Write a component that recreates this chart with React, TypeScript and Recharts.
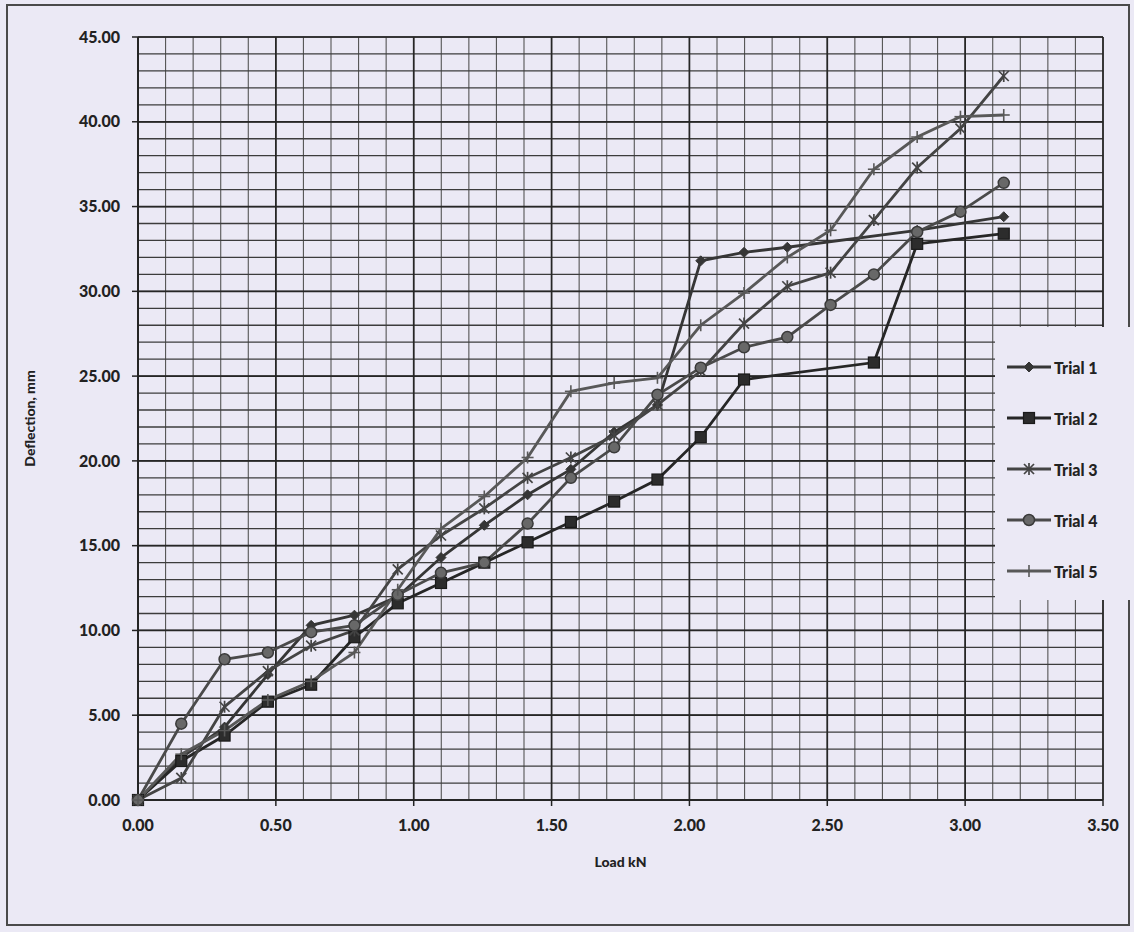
import React from "react";
import {
  LineChart,
  Line,
  XAxis,
  YAxis,
  CartesianGrid,
  Legend,
} from "recharts";

// load steps (kN)
const loads = [
  0.0, 0.157, 0.314, 0.471, 0.628, 0.785, 0.942, 1.099, 1.256, 1.413, 1.57,
  1.727, 1.884, 2.041, 2.198, 2.355, 2.512, 2.669, 2.826, 2.983, 3.14,
];

// deflection (mm), null = no reading
const trial1 = [
  0, 2.5, 4.3, 7.4, 10.3, 10.9, 12.0, 14.3, 16.2, 18.0, 19.5, 21.7, 23.3,
  31.8, 32.3, 32.6, null, null, 33.6, null, 34.4,
];
const trial2 = [
  0, 2.3, 3.8, 5.8, 6.8, 9.6, 11.6, 12.8, 14.0, 15.2, 16.4, 17.6, 18.9, 21.4,
  24.8, null, null, 25.8, 32.8, null, 33.4,
];
const trial3 = [
  0, 1.3, 5.5, 7.6, 9.1, 10.0, 13.6, 15.6, 17.2, 19.0, 20.2, 21.5, 23.3,
  25.3, 28.1, 30.3, 31.1, 34.2, 37.3, 39.6, 42.7,
];
const trial4 = [
  0, 4.5, 8.3, 8.7, 9.9, 10.3, 12.1, 13.4, 14.0, 16.3, 19.0, 20.8, 23.9,
  25.5, 26.7, 27.3, 29.2, 31.0, 33.5, 34.7, 36.4,
];
const trial5 = [
  0, 2.7, 4.1, 5.9, 7.0, 8.7, 12.4, 16.0, 17.9, 20.2, 24.1, 24.6, 24.9, 28.0,
  29.9, 32.0, 33.6, 37.2, 39.1, 40.3, 40.4,
];

const xTicks = [0, 0.5, 1, 1.5, 2, 2.5, 3, 3.5];
const yTicks = [0, 5, 10, 15, 20, 25, 30, 35, 40, 45];

// minor grid: 0.1 kN and 1 mm
const xMinor = Array.from({ length: 36 }, (_, i) => +(i * 0.1).toFixed(1));
const yMinor = Array.from({ length: 46 }, (_, i) => i);

const BG = "#EBE9F5";

const series = [
  { key: "t1", name: "Trial 1", values: trial1, color: "#363636", shape: "diamond" },
  { key: "t2", name: "Trial 2", values: trial2, color: "#262626", shape: "square" },
  { key: "t3", name: "Trial 3", values: trial3, color: "#444444", shape: "star" },
  { key: "t4", name: "Trial 4", values: trial4, color: "#4a4a4a", shape: "circle" },
  { key: "t5", name: "Trial 5", values: trial5, color: "#585858", shape: "plus" },
];

const data = loads.map((load, i) => {
  const row: any = { load };
  series.forEach((s) => {
    row[s.key] = s.values[i];
  });
  return row;
});

function Marker({ shape, x, y, color }: any) {
  if (shape === "diamond") {
    return (
      <polygon
        points={`${x},${y - 5} ${x + 5},${y} ${x},${y + 5} ${x - 5},${y}`}
        fill={color}
        stroke={color}
      />
    );
  }
  if (shape === "square") {
    return (
      <rect x={x - 5.5} y={y - 5.5} width={11} height={11} fill="#2c2c2c" stroke="#1a1a1a" strokeWidth={1.2} />
    );
  }
  if (shape === "star") {
    return (
      <g stroke={color} strokeWidth={1.7}>
        <line x1={x - 5} y1={y - 5} x2={x + 5} y2={y + 5} />
        <line x1={x + 5} y1={y - 5} x2={x - 5} y2={y + 5} />
        <line x1={x} y1={y - 6} x2={x} y2={y + 6} />
      </g>
    );
  }
  if (shape === "circle") {
    return <circle cx={x} cy={y} r={5.5} fill="#686868" stroke="#3a3a3a" strokeWidth={1.5} />;
  }
  return (
    <g stroke={color} strokeWidth={1.6}>
      <line x1={x} y1={y - 6} x2={x} y2={y + 6} />
      <line x1={x - 6} y1={y} x2={x + 6} y2={y} />
    </g>
  );
}

const makeDot = (shape: string, color: string) => (props: any) => {
  const { cx, cy, index, value } = props;
  if (cx == null || cy == null || value == null) return <g key={index} />;
  return (
    <g key={index}>
      <Marker shape={shape} x={cx} y={cy} color={color} />
    </g>
  );
};

function TrialLegend() {
  return (
    <div style={{ position: "relative", width: "100%", height: "100%" }}>
      {series.map((s, i) => (
        <div
          key={s.key}
          style={{
            position: "absolute",
            left: 12,
            top: 40 + i * 51 - 9,
            height: 18,
            display: "flex",
            alignItems: "center",
          }}
        >
          <svg width={44} height={18}>
            <line x1={0} y1={9} x2={44} y2={9} stroke={s.color} strokeWidth={2.8} />
            <Marker shape={s.shape} x={22} y={9} color={s.color} />
          </svg>
          <span
            style={{
              marginLeft: 3,
              fontFamily: "Lato, sans-serif",
              fontWeight: 900,
              fontSize: 16,
              color: "#222",
            }}
          >
            {s.name}
          </span>
        </div>
      ))}
    </div>
  );
}

const tickStyle = { fontFamily: "Lato, sans-serif", fontWeight: 900, fontSize: 16, fill: "#222" };
const titleStyle = { fontFamily: "Lato, sans-serif", fontWeight: 900, fontSize: 14, fill: "#222" };

export default function App() {
  return (
    <div
      style={{
        position: "absolute",
        left: 0,
        top: 0,
        width: 1134,
        height: 932,
        background: BG,
      }}
    >
      <div
        style={{
          position: "absolute",
          left: 6,
          top: 4,
          width: 1124,
          height: 922,
          border: "2px solid #4a4a4a",
          boxSizing: "border-box",
        }}
      />
      <div style={{ position: "absolute", left: 0, top: 0 }}>
        <LineChart
          width={1134}
          height={932}
          data={data}
          margin={{ top: 37, right: 31, left: 18, bottom: 62 }}
        >
          <CartesianGrid
            horizontal={false}
            verticalValues={xMinor}
            stroke="#555555"
            strokeWidth={1.1}
          />
          <CartesianGrid
            vertical={false}
            horizontalValues={yMinor}
            stroke="#3c3c3c"
            strokeWidth={1.3}
          />
          <CartesianGrid
            verticalValues={xTicks}
            horizontalValues={yTicks}
            stroke="#262626"
            strokeWidth={1.7}
          />
          <XAxis
            dataKey="load"
            type="number"
            domain={[0, 3.5]}
            ticks={xTicks}
            interval={0}
            tickFormatter={(v: number) => v.toFixed(2)}
            height={70}
            tickSize={6}
            tickMargin={14}
            tick={tickStyle}
            axisLine={{ stroke: "#222", strokeWidth: 1.7 }}
            tickLine={{ stroke: "#222", strokeWidth: 1.5 }}
            label={{ value: "Load kN", position: "insideBottom", offset: 3, style: titleStyle }}
          />
          <YAxis
            type="number"
            domain={[0, 45]}
            ticks={yTicks}
            interval={0}
            tickFormatter={(v: number) => v.toFixed(2)}
            width={120}
            tickSize={6}
            tickMargin={12}
            tick={tickStyle}
            axisLine={{ stroke: "#222", strokeWidth: 1.7 }}
            tickLine={{ stroke: "#222", strokeWidth: 1.5 }}
            label={{
              value: "Deflection, mm",
              angle: -90,
              position: "insideLeft",
              offset: 12,
              style: { ...titleStyle, textAnchor: "middle" },
            }}
          />
          <Legend
            layout="vertical"
            align="center"
            verticalAlign="middle"
            wrapperStyle={{ left: 995, top: 327, width: 139, height: 273, background: BG }}
            content={() => <TrialLegend />}
          />
          {series.map((s) => (
            <Line
              key={s.key}
              dataKey={s.key}
              name={s.name}
              type="linear"
              stroke={s.color}
              strokeWidth={2.8}
              connectNulls
              dot={makeDot(s.shape, s.color)}
              activeDot={false}
              isAnimationActive={false}
            />
          ))}
        </LineChart>
      </div>
    </div>
  );
}
